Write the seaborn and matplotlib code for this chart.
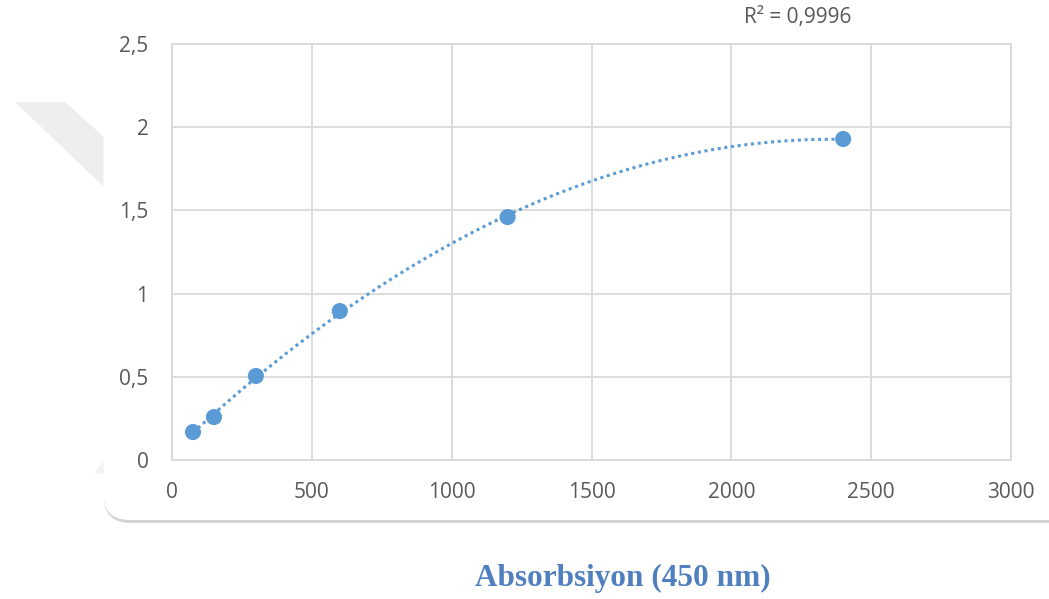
import numpy as np
import pandas as pd
import matplotlib
matplotlib.use("Agg")
import matplotlib.pyplot as plt
from matplotlib.patches import FancyBboxPatch, Polygon
from matplotlib.ticker import FuncFormatter
import seaborn as sns

# Standard curve: concentration vs absorbance at 450 nm
concentration = [75, 150, 300, 600, 1200, 2400]
absorbance = [0.168, 0.258, 0.505, 0.895, 1.460, 1.929]
r2_label = "R² = 0,9996"
x_ticks = [0, 500, 1000, 1500, 2000, 2500, 3000]
y_ticks = [0, 0.5, 1.0, 1.5, 2.0, 2.5]
title = "Absorbsiyon (450 nm)"

point_color = "#5B9BD5"
tick_color = "#595959"
grid_color = "#D9D9D9"

sns.set_theme(style="white")
plt.rcParams["font.family"] = ["Open Sans", "DejaVu Sans"]

df = pd.DataFrame({"x": concentration, "y": absorbance})

# second-order polynomial trendline over the data range
coef = np.polyfit(df["x"], df["y"], 2)
xs = np.linspace(df["x"].min(), df["x"].max(), 200)
trend = pd.DataFrame({"x": xs, "y": np.polyval(coef, xs)})

W, H = 1049, 599
fig = plt.figure(figsize=(W / 100, H / 100), dpi=100)

# faint background watermark shape
wm = Polygon([(15 / W, 1 - 102 / H), (65 / W, 1 - 102 / H), (104 / W, 1 - 137 / H),
              (104 / W, 1 - 187 / H)], closed=True, transform=fig.transFigure,
             facecolor="#EEEEEE", edgecolor="none", zorder=0)
fig.patches.append(wm)
wm2 = Polygon([(95 / W, 1 - 473 / H), (104 / W, 1 - 460 / H), (104 / W, 1 - 474 / H)],
              closed=True, transform=fig.transFigure,
              facecolor="#F2F2F2", edgecolor="none", zorder=0)
fig.patches.append(wm2)

# chart frame with rounded corners (only the lower-left part is in view)
frame_shadow = FancyBboxPatch((104 / W, 1 - 523 / H), 1.2, 1.2,
                              boxstyle="round,pad=0,rounding_size=0.025",
                              transform=fig.transFigure, facecolor="#D3D3D3",
                              edgecolor="none", zorder=1, mutation_aspect=W / H)
fig.patches.append(frame_shadow)
frame = FancyBboxPatch((103.5 / W, 1 - 520 / H), 1.2, 1.2,
                       boxstyle="round,pad=0,rounding_size=0.025",
                       transform=fig.transFigure, facecolor="white",
                       edgecolor="none", zorder=1, mutation_aspect=W / H)
fig.patches.append(frame)

ax = fig.add_axes([172 / W, 1 - 460 / H, (1011 - 172) / W, (460 - 44) / H])
ax.set_zorder(2)
ax.set_facecolor("white")

sns.lineplot(data=trend, x="x", y="y", ax=ax, color=point_color, linewidth=2.2,
             linestyle=(0, (1, 1.2)), zorder=3)
sns.scatterplot(data=df, x="x", y="y", ax=ax, color=point_color, s=135,
                edgecolor="none", zorder=4)

ax.set_xlim(0, 3000)
ax.set_ylim(0, 2.5)
ax.set_xticks(x_ticks)
ax.set_yticks(y_ticks)


def comma_fmt(v, _pos):
    return f"{v:g}".replace(".", ",")


ax.yaxis.set_major_formatter(FuncFormatter(comma_fmt))
ax.xaxis.set_major_formatter(FuncFormatter(lambda v, p: f"{int(v)}"))
ax.grid(True, color=grid_color, linewidth=1.3)
ax.set_axisbelow(True)
for sp in ax.spines.values():
    sp.set_color(grid_color)
    sp.set_linewidth(1.3)
ax.tick_params(axis="both", length=0, labelsize=15, colors=tick_color)
ax.tick_params(axis="x", pad=16)
ax.tick_params(axis="y", pad=17)
ax.set_xlabel("")
ax.set_ylabel("")

fig.text(798 / W, 1 - 18 / H, r2_label, ha="center", va="center",
         fontsize=15, color=tick_color)

fig.text(623 / W, 1 - 578 / H, title, ha="center", va="center",
         fontsize=22.5, fontweight="bold", color="#4F7FBF",
         family=["Liberation Serif", "DejaVu Serif"])

fig.savefig("out.png", dpi=100, facecolor="white")
